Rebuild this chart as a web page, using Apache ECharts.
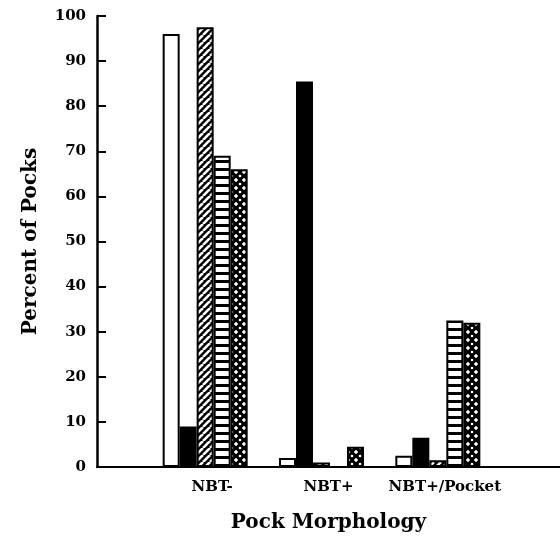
<!DOCTYPE html>
<html>
<head>
<meta charset="utf-8">
<script src="https://cdn.jsdelivr.net/npm/echarts@6/dist/echarts.min.js"></script>
<style>
html,body{margin:0;padding:0;background:#fff;}
#chart{width:560px;height:538px;}
</style>
</head>
<body>
<div id="chart"></div>
<script>
var categories = ['NBT-', 'NBT+', 'NBT+/Pocket'];
var openBar = [96, 2, 2.5];
var solidBar = [9, 85.5, 6.5];
var diagBar = [97.5, 1, 1.5];
var stripeBar = [69, 0, 32.5];
var crossBar = [66, 4.5, 32];
var yMin = 0, yMax = 100, yStep = 10;

// fill patterns
function makePattern(kind){
    var c = document.createElement('canvas');
    var ctx = c.getContext('2d');
    if(kind === 'diag'){
        c.width = 7; c.height = 7;
        ctx.fillStyle = '#000'; ctx.fillRect(0,0,7,7);
        ctx.strokeStyle = '#fff'; ctx.lineWidth = 2.6;
        for(var x=-7;x<=7;x+=7){
            ctx.beginPath(); ctx.moveTo(x,7); ctx.lineTo(x+7,0); ctx.stroke();
        }
    } else if(kind === 'stripe'){
        c.width = 4; c.height = 8;
        ctx.fillStyle = '#fff'; ctx.fillRect(0,0,4,8);
        ctx.fillStyle = '#000'; ctx.fillRect(0,0,4,3);
    } else {
        c.width = 8; c.height = 8;
        ctx.fillStyle = '#000'; ctx.fillRect(0,0,8,8);
        ctx.fillStyle = '#fff';
        ctx.beginPath(); ctx.moveTo(4,1.8); ctx.lineTo(6.2,4); ctx.lineTo(4,6.2); ctx.lineTo(1.8,4); ctx.closePath(); ctx.fill();
        ctx.beginPath(); ctx.arc(0,0,1.3,0,Math.PI*2); ctx.fill();
        ctx.beginPath(); ctx.arc(8,0,1.3,0,Math.PI*2); ctx.fill();
        ctx.beginPath(); ctx.arc(0,8,1.3,0,Math.PI*2); ctx.fill();
        ctx.beginPath(); ctx.arc(8,8,1.3,0,Math.PI*2); ctx.fill();
    }
    return {image: c, repeat: 'repeat'};
}

var font = 'DejaVu Serif';

function barSeries(data, fill){
    return {
        type:'bar',
        xAxisIndex:1,
        yAxisIndex:1,
        data:data,
        barWidth:17,
        barGap:'0%',
        silent:true,
        itemStyle:{
            color:fill,
            borderColor:'#000',
            borderWidth:2
        }
    };
}

var chart = echarts.init(document.getElementById('chart'), null, {renderer:'canvas'});
var option = {
    animation:false,
    backgroundColor:'#fff',
    grid:[
        {left:97, right:0, top:16, bottom:71},
        {left:147, right:64, top:16, bottom:71}
    ],
    xAxis:[
        {
            gridIndex:0,
            type:'value',
            min:0, max:1,
            axisLine:{show:true, lineStyle:{color:'#000', width:2}},
            axisTick:{show:false},
            axisLabel:{show:false},
            splitLine:{show:false},
            name:'Pock Morphology',
            nameLocation:'middle',
            nameGap:46,
            nameTextStyle:{fontFamily:font, fontWeight:'bold', fontSize:20, color:'#000'}
        },
        {
            gridIndex:1,
            type:'category',
            data:categories,
            axisLine:{show:false},
            axisTick:{show:false},
            axisLabel:{interval:0, fontFamily:font, fontWeight:'bold', fontSize:15, color:'#000', margin:13, padding:[0,0,0,14]}
        }
    ],
    yAxis:[
        {
            gridIndex:0,
            type:'value',
            min:yMin, max:yMax, interval:yStep,
            axisLine:{show:true, lineStyle:{color:'#000', width:2.5}},
            axisTick:{show:true, inside:true, length:9, lineStyle:{color:'#000', width:2}},
            axisLabel:{fontFamily:font, fontWeight:'bold', fontSize:15, color:'#000', margin:11},
            splitLine:{show:false},
            name:'Percent of Pocks',
            nameLocation:'middle',
            nameGap:56,
            nameTextStyle:{fontFamily:font, fontWeight:'bold', fontSize:20, color:'#000'}
        },
        {
            gridIndex:1,
            type:'value',
            min:yMin, max:yMax,
            show:false
        }
    ],
    series:[
        barSeries(openBar, '#fff'),
        barSeries(solidBar, '#000'),
        barSeries(diagBar, makePattern('diag')),
        barSeries(stripeBar, makePattern('stripe')),
        barSeries(crossBar, makePattern('cross'))
    ]
};
chart.setOption(option);
</script>
</body>
</html>
